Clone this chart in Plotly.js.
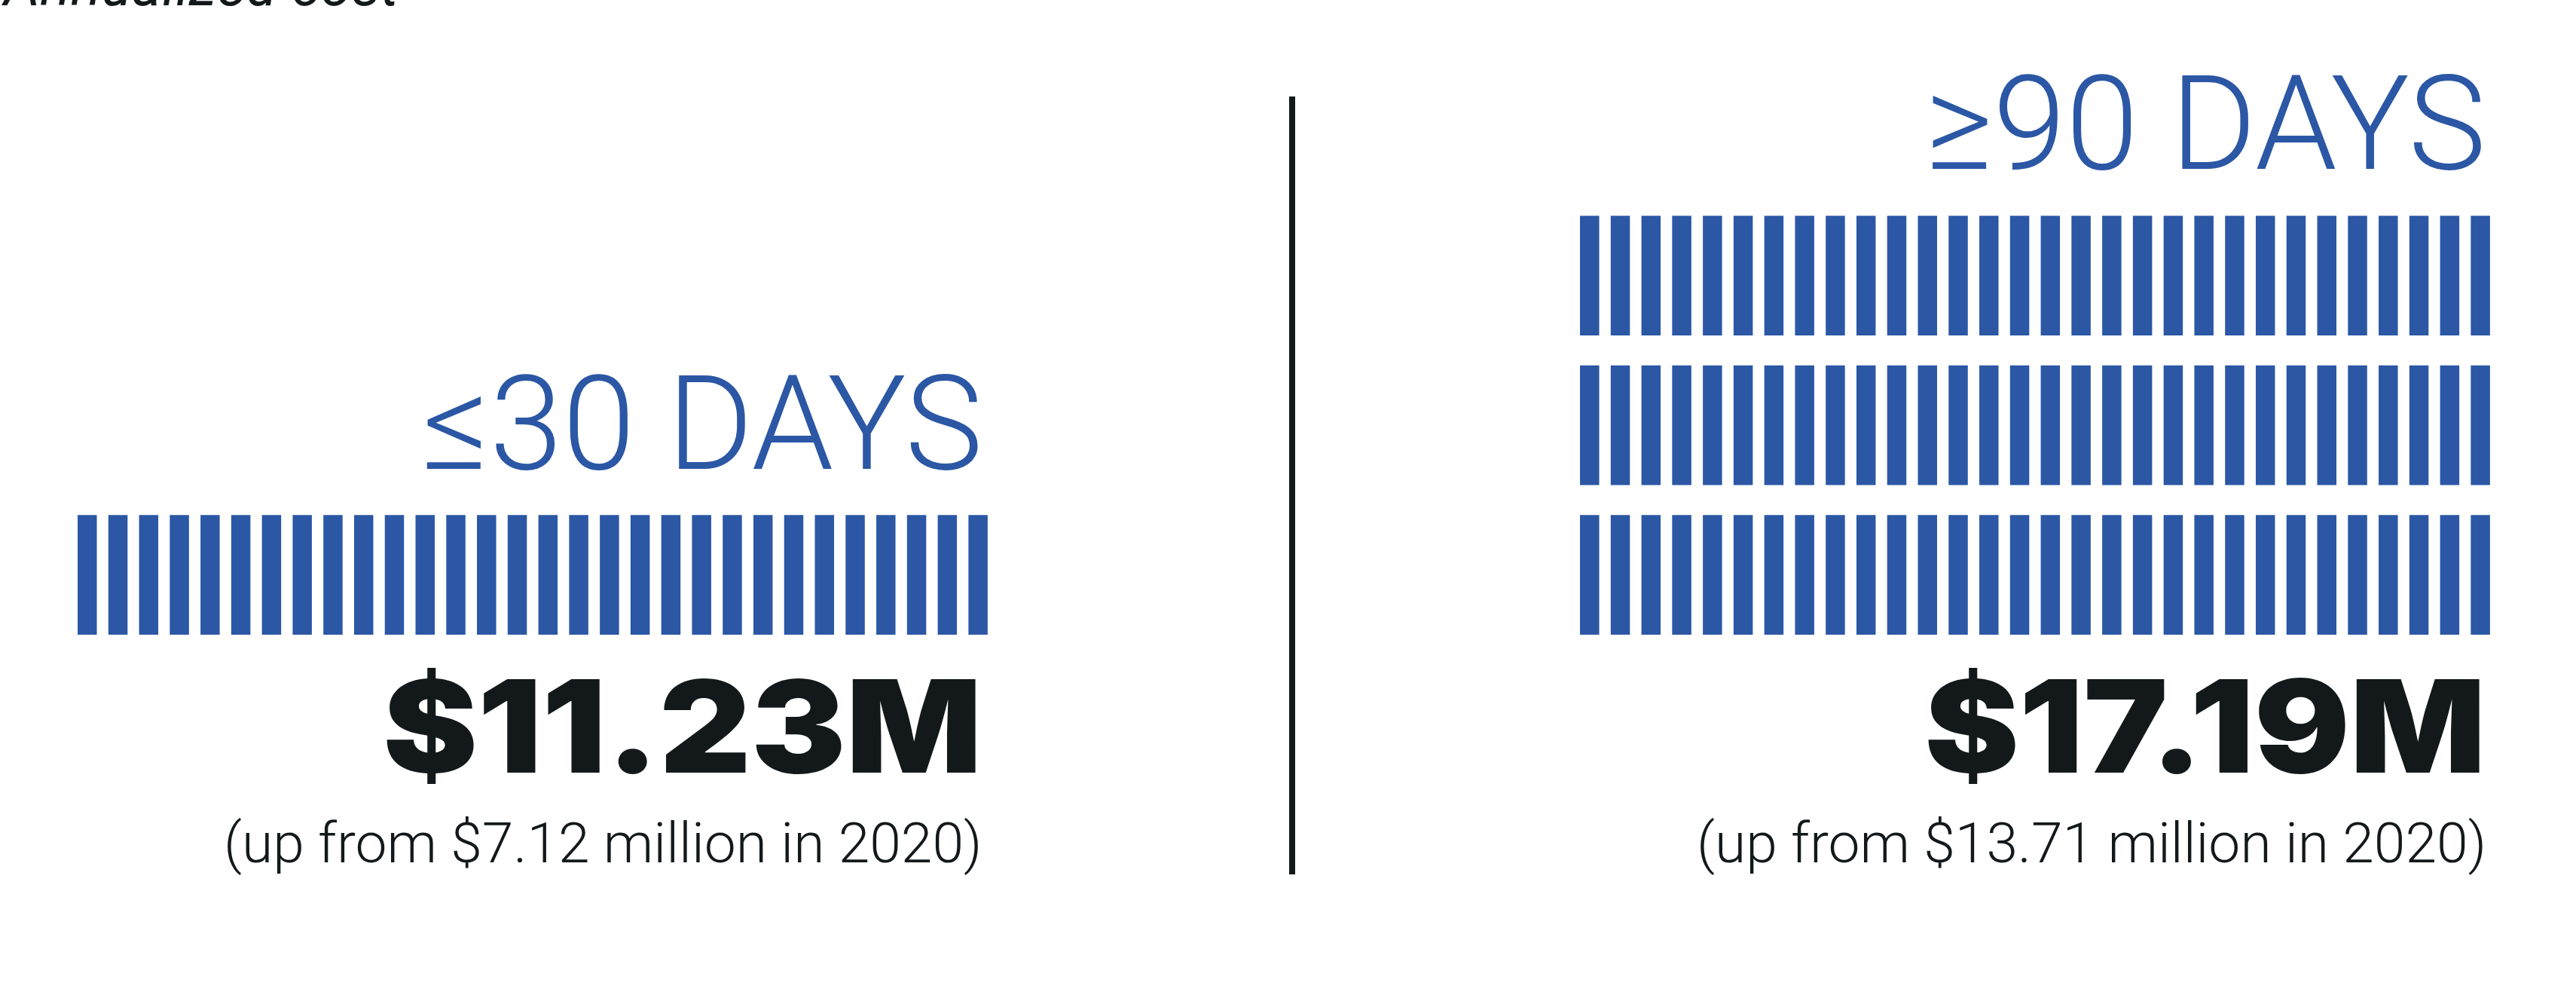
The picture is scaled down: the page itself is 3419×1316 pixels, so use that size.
<!DOCTYPE html>
<html><head><meta charset="utf-8">
<script src="https://cdn.plot.ly/plotly-3.0.1.min.js"></script>
<style>html,body{margin:0;padding:0;background:#fff;overflow:hidden}#chart{width:3419px;height:1316px}</style>
</head><body><div id="chart"></div>
<script>
// ---- data ----
const groups = ["≤30 DAYS", "≥90 DAYS"];
const cost2021 = [11.23, 17.19];          // $ millions
const cost2020 = [7.12, 13.71];           // $ millions
const rowsPerGroup = [1, 3];              // rows of unit bars in the pictograph
const barsPerRow = 30;
const chartNote = "Annualized cost";

// ---- layout helpers ----
const W = 3419, H = 1316;
const BLUE = "#2B57A5", INK = "#13191B";
const px = x => x / W, py = y => 1 - y / H;

function unitBars(nRows, xa, ya) {
  const x = [], base = [], y = [];
  for (let r = 0; r < nRows; r++) {
    for (let i = 1; i <= barsPerRow; i++) { x.push(i); base.push(r); y.push(0.8); }
  }
  return { type: "bar", x, y, base, xaxis: xa, yaxis: ya, width: 0.625,
           marker: { color: BLUE, line: { width: 0 } }, hoverinfo: "skip", showlegend: false };
}

const data = [unitBars(rowsPerGroup[0], "x", "y"), unitBars(rowsPerGroup[1], "x2", "y2")];

const hidden = { visible: false, fixedrange: true };
const yDom = [py(842), py(246.5)];
const layout = {
  width: W, height: H, margin: { l: 0, r: 0, t: 0, b: 0 },
  paper_bgcolor: "#fff", plot_bgcolor: "rgba(0,0,0,0)", showlegend: false,
  barmode: "overlay",
  xaxis: Object.assign({ domain: [px(95.4), px(1318.5)], range: [0.5, barsPerRow + 0.5], anchor: "y" }, hidden),
  yaxis: Object.assign({ domain: yDom, range: [0, 3], anchor: "x" }, hidden),
  xaxis2: Object.assign({ domain: [px(2089.4), px(3312.5)], range: [0.5, barsPerRow + 0.5], anchor: "y2" }, hidden),
  yaxis2: Object.assign({ domain: yDom, range: [0, 3], anchor: "x2" }, hidden),
  shapes: [{ type: "line", xref: "paper", yref: "paper", x0: px(1715), x1: px(1715), y0: py(128), y1: py(1160),
             line: { color: INK, width: 8 } }],
  annotations: []
};

const fmt = v => "$" + v.toFixed(2);
const rightEdges = [1306, 3302];
const headBase = [623, 225];
const bigIdx = [];
groups.forEach((g, k) => {
  const xr = px(rightEdges[k]);
  layout.annotations.push(
    { text: g, xref: "paper", yref: "paper", x: xr, y: py(headBase[k] + 0.244 * 174 + 1), xanchor: "right", yanchor: "bottom",
      showarrow: false, font: { family: "Roboto", weight: 300, size: 174, color: BLUE } });
  bigIdx.push(layout.annotations.length);
  layout.annotations.push(
    { text: fmt(cost2021[k]) + "M", xref: "paper", yref: "paper", x: xr, y: py(1026 + 0.242 * 170 + 1), xanchor: "right", yanchor: "bottom",
      showarrow: false, font: { family: "Inter", weight: 900, size: 170, color: INK } },
    { text: "(up from " + fmt(cost2020[k]) + " million in 2020)", xref: "paper", yref: "paper", x: xr, y: py(1145 + 0.244 * 75 + 1),
      xanchor: "right", yanchor: "bottom", showarrow: false, font: { family: "Roboto", weight: 300, size: 75, color: INK } }
  );
});
layout.annotations.push({ text: chartNote, xref: "paper", yref: "paper", x: px(0), y: py(8 + 0.244 * 76 + 1),
  xanchor: "left", yanchor: "bottom", showarrow: false, font: { family: "Roboto", style: "italic", weight: 400, size: 76, color: INK } });

Plotly.newPlot("chart", data, layout, { staticPlot: true, displayModeBar: false }).then(gd => {
  // widen the heavy figures slightly (the original uses a wider black face)
  bigIdx.forEach(i => {
    const t = gd.querySelector('g.annotation[data-index="' + i + '"] text.annotation-text');
    if (!t) return;
    const bb = t.getBBox();
    const r = bb.x + bb.width;
    t.setAttribute("transform", "translate(" + r + ",0) scale(1.11,1) translate(" + (-r) + ",0)");
  });
});
</script></body></html>
